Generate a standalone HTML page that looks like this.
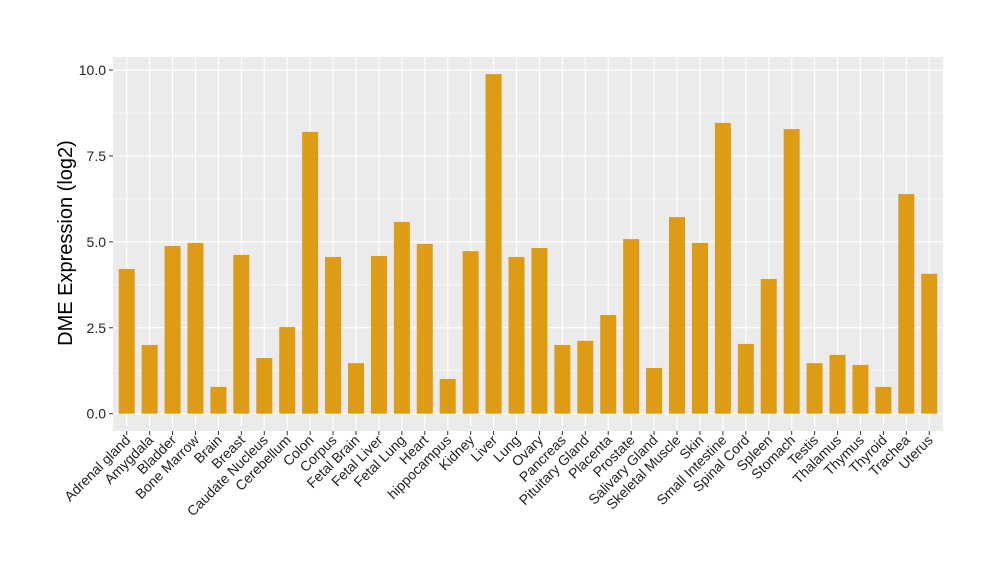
<!DOCTYPE html><html><head><style>body{margin:0;background:#fff}svg text{font-family:"Liberation Sans",sans-serif}</style></head><body>
<svg id="sv" width="1000" height="580" xmlns="http://www.w3.org/2000/svg">
<rect x="113" y="57" width="830" height="374" fill="#EBEBEB"/>
<g id="g"></g>
</svg>
<script>
var v=[["Adrenal gland",4.21],["Amygdala",2.0],["Bladder",4.88],["Bone Marrow",4.97],["Brain",0.78],["Breast",4.62],["Caudate Nucleus",1.62],["Cerebellum",2.52],["Colon",8.2],["Corpus",4.56],["Fetal Brain",1.47],["Fetal Liver",4.59],["Fetal Lung",5.58],["Heart",4.94],["hippocampus",1.01],["Kidney",4.73],["Liver",9.88],["Lung",4.56],["Ovary",4.82],["Pancreas",2.0],["Pituitary Gland",2.12],["Placenta",2.87],["Prostate",5.08],["Salivary Gland",1.33],["Skeletal Muscle",5.72],["Skin",4.97],["Small Intestine",8.46],["Spinal Cord",2.03],["Spleen",3.92],["Stomach",8.28],["Testis",1.47],["Thalamus",1.71],["Thymus",1.42],["Thyroid",0.78],["Trachea",6.39],["Uterus",4.07]];
var y0=413.7,k=34.37,s='';
for(var i=0;i<5;i++){var yy=y0-(i*2.5+1.25)*k;s+='<line x1="113" x2="943" y1="'+yy+'" y2="'+yy+'" stroke="#fff" stroke-width="0.6"/>';}
for(var i=0;i<5;i++){var yy=y0-i*2.5*k;s+='<line x1="113" x2="943" y1="'+yy+'" y2="'+yy+'" stroke="#fff" stroke-width="1.2"/><line x1="109" x2="113" y1="'+yy+'" y2="'+yy+'" stroke="#333"/><text x="106" y="'+(yy+5)+'" text-anchor="end" font-size="14" fill="#222">'+(i*2.5).toFixed(1)+'</text>';}
for(var i=0;i<v.length;i++){var x=126.7+i*22.93;s+='<line x1="'+x+'" x2="'+x+'" y1="57" y2="431" stroke="#fff" stroke-width="1.2"/>';}
for(var i=0;i<v.length;i++){var x=126.7+i*22.93,h=v[i][1]*k;s+='<rect x="'+(x-8)+'" y="'+(y0-h)+'" width="16" height="'+h+'" fill="#DE9B15"/><line x1="'+x+'" x2="'+x+'" y1="431" y2="435" stroke="#333"/><text transform="translate('+(x+4.5)+',441) rotate(-45)" text-anchor="end" font-size="14" fill="#222">'+v[i][0]+'</text>';}
s+='<text transform="translate(72,243) rotate(-90)" text-anchor="middle" font-size="20" fill="#000">DME Expression (log2)</text>';
document.getElementById('g').innerHTML=s;
</script>
</body></html>
